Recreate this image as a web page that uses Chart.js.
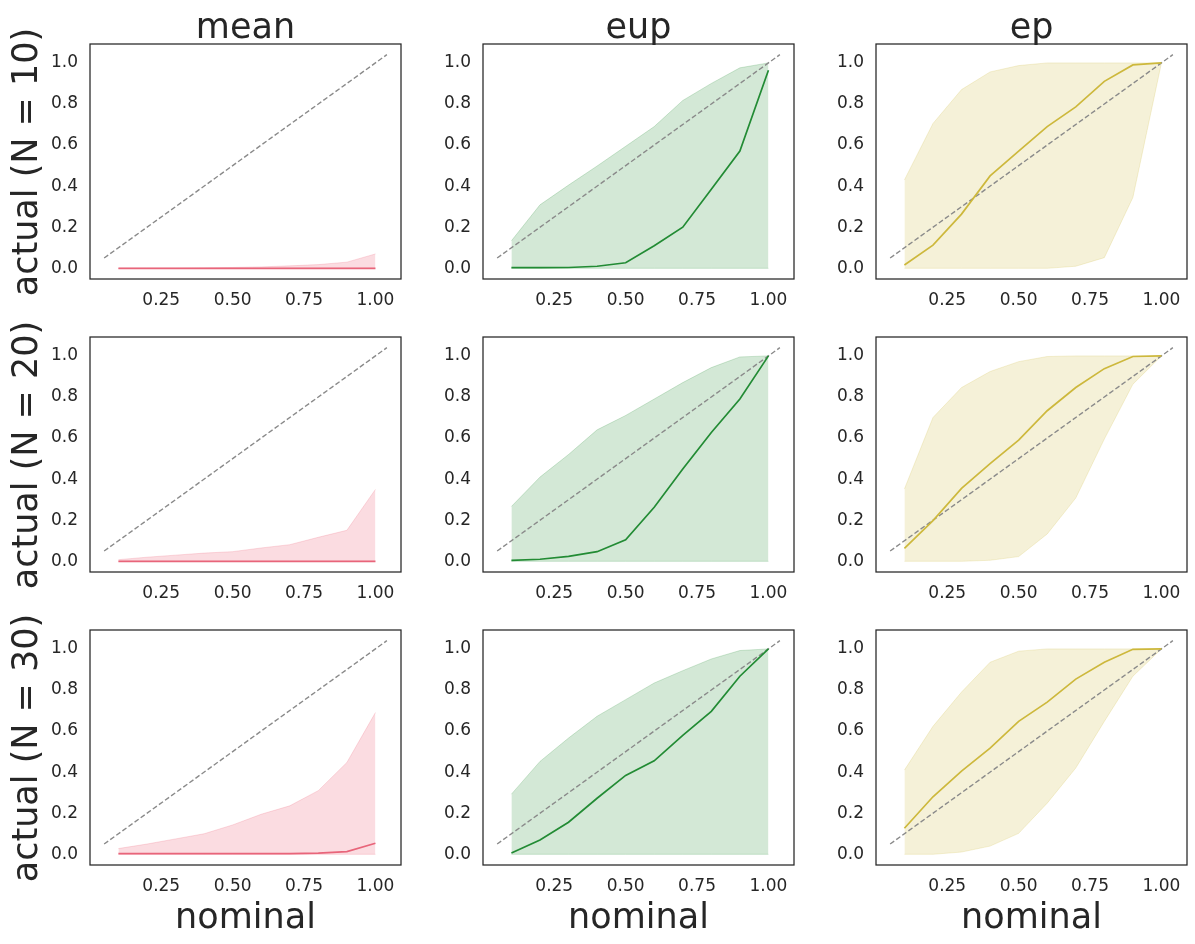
<!DOCTYPE html>
<html>
<head>
<meta charset="utf-8">
<script src="https://cdn.jsdelivr.net/npm/chart.js@4.4.1/dist/chart.umd.min.js"></script>
<style>
  body { margin: 0; background: #fff; }
  #page { position: relative; width: 1195px; height: 944px; overflow: hidden; font-family: "DejaVu Sans", sans-serif; color: #262626; }
  canvas { position: absolute; }
  .lbl { position: absolute; font-size: 35px; line-height: 35px; white-space: nowrap; }
</style>
</head>
<body>
<div id="page"></div>
<script>
// nominal levels (x) shared by every panel
const nominal = [0.1, 0.2, 0.3, 0.4, 0.5, 0.6, 0.7, 0.8, 0.9, 1.0];
const diagonal = [0.05, 1.04];
const xTicks = [0.25, 0.5, 0.75, 1.0];
const yTicks = [0.0, 0.2, 0.4, 0.6, 0.8, 1.0];

const methods = ['mean', 'eup', 'ep'];
const rowLabels = ['actual (N = 10)', 'actual (N = 20)', 'actual (N = 30)'];

// N = 10
const meanLine10 = [0, 0, 0, 0, 0, 0, 0, 0, 0, 0];
const meanLo10 = [0, 0, 0, 0, 0, 0, 0, 0, 0, 0];
const meanHi10 = [0.0, 0.0, 0.0, 0.002, 0.004, 0.007, 0.012, 0.018, 0.03, 0.07];
const eupLine10 = [0.003, 0.003, 0.004, 0.01, 0.027, 0.11, 0.2, 0.385, 0.571, 0.964];
const eupLo10 = [0, 0, 0, 0, 0, 0, 0, 0, 0, 0];
const eupHi10 = [0.134, 0.309, 0.405, 0.498, 0.594, 0.69, 0.817, 0.9, 0.976, 1.0];
const epLine10 = [0.016, 0.113, 0.264, 0.45, 0.57, 0.69, 0.786, 0.91, 0.99, 1.0];
const epLo10 = [0, 0, 0, 0, 0, 0, 0.01, 0.052, 0.345, 1.0];
const epHi10 = [0.43, 0.705, 0.87, 0.956, 0.987, 1.0, 1.0, 1.0, 1.0, 1.0];

// N = 20
const meanLine20 = [0, 0, 0, 0, 0, 0, 0, 0, 0, 0];
const meanLo20 = [0, 0, 0, 0, 0, 0, 0, 0, 0, 0];
const meanHi20 = [0.008, 0.02, 0.03, 0.04, 0.047, 0.065, 0.081, 0.117, 0.151, 0.35];
const eupLine20 = [0.005, 0.01, 0.024, 0.047, 0.105, 0.263, 0.449, 0.627, 0.79, 1.0];
const eupLo20 = [0, 0, 0, 0, 0, 0, 0, 0, 0, 0];
const eupHi20 = [0.267, 0.41, 0.52, 0.64, 0.71, 0.79, 0.87, 0.943, 0.995, 1.0];
const epLine20 = [0.063, 0.198, 0.355, 0.476, 0.59, 0.733, 0.846, 0.938, 0.997, 1.0];
const epLo20 = [0, 0, 0, 0.005, 0.023, 0.133, 0.308, 0.595, 0.862, 1.0];
const epHi20 = [0.352, 0.7, 0.846, 0.924, 0.972, 0.997, 1.0, 1.0, 1.0, 1.0];

// N = 30
const meanLine30 = [0.003, 0.003, 0.003, 0.003, 0.003, 0.003, 0.003, 0.006, 0.013, 0.054];
const meanLo30 = [0, 0, 0, 0, 0, 0, 0, 0, 0, 0];
const meanHi30 = [0.028, 0.05, 0.075, 0.1, 0.143, 0.195, 0.236, 0.31, 0.447, 0.69];
const eupLine30 = [0.006, 0.07, 0.156, 0.273, 0.384, 0.455, 0.579, 0.696, 0.867, 1.0];
const eupLo30 = [0, 0, 0, 0, 0, 0, 0, 0, 0, 0];
const eupHi30 = [0.293, 0.452, 0.566, 0.672, 0.753, 0.834, 0.894, 0.951, 0.992, 1.0];
const epLine30 = [0.127, 0.28, 0.405, 0.517, 0.647, 0.741, 0.853, 0.935, 0.998, 1.0];
const epLo30 = [0, 0, 0.011, 0.04, 0.102, 0.249, 0.42, 0.647, 0.867, 1.0];
const epHi30 = [0.41, 0.623, 0.79, 0.935, 0.989, 1.0, 1.0, 1.0, 1.0, 1.0];

const panels = [
    [[meanLine10, meanLo10, meanHi10], [eupLine10, eupLo10, eupHi10], [epLine10, epLo10, epHi10]],
    [[meanLine20, meanLo20, meanHi20], [eupLine20, eupLo20, eupHi20], [epLine20, epLo20, epHi20]],
    [[meanLine30, meanLo30, meanHi30], [eupLine30, eupLo30, eupHi30], [epLine30, epLo30, epHi30]]
];

const lineColors = ['#e8657a', '#228b34', '#cdb83c'];
const bandColors = ['rgba(240, 110, 130, 0.24)', 'rgba(34, 139, 52, 0.2)', 'rgba(205, 184, 60, 0.2)'];

// layout of the axes frames
const colLeft = [90, 483, 876];
const rowTop = [44, 337, 630];
const frameW = 311, frameH = 235;
const padL = 60, padT = 5, padR = 5, padB = 35;

const page = document.getElementById('page');

// draws the four spines like the seaborn "white" style
const framePlugin = {
    id: 'frame',
    afterDatasetsDraw(chart) {
        const a = chart.chartArea;
        const ctx = chart.ctx;
        ctx.save();
        ctx.strokeStyle = '#262626';
        ctx.lineWidth = 1.25;
        ctx.strokeRect(a.left, a.top, a.right - a.left, a.bottom - a.top);
        ctx.restore();
    }
};

const pts = ys => nominal.map((x, i) => ({ x: x, y: ys[i] }));

function makePanel(r, c) {
    const [line, lo, hi] = panels[r][c];
    const canvas = document.createElement('canvas');
    canvas.width = frameW + padL + padR;
    canvas.height = frameH + padT + padB;
    canvas.style.left = (colLeft[c] - padL) + 'px';
    canvas.style.top = (rowTop[r] - padT) + 'px';
    page.appendChild(canvas);

    new Chart(canvas.getContext('2d'), {
        type: 'line',
        data: {
            datasets: [
                {
                    data: pts(line),
                    borderColor: lineColors[c],
                    borderWidth: 1.7,
                    pointRadius: 0,
                    fill: false,
                    order: 0
                },
                {
                    data: diagonal.map(v => ({ x: v, y: v })),
                    borderColor: '#8a8a8a',
                    borderWidth: 1.4,
                    borderDash: [5, 2.5],
                    pointRadius: 0,
                    fill: false,
                    order: 1
                },
                {
                    data: pts(hi),
                    borderColor: bandColors[c],
                    backgroundColor: bandColors[c],
                    borderWidth: 1,
                    pointRadius: 0,
                    fill: '+1',
                    order: 2
                },
                {
                    data: pts(lo),
                    borderColor: bandColors[c],
                    borderWidth: 1,
                    pointRadius: 0,
                    fill: false,
                    order: 3
                }
            ]
        },
        options: {
            responsive: false,
            animation: false,
            events: [],
            layout: { padding: { left: 0, top: padT, right: padR, bottom: 0 } },
            plugins: {
                legend: { display: false },
                tooltip: { enabled: false }
            },
            elements: { line: { tension: 0 } },
            scales: {
                x: {
                    type: 'linear',
                    min: 0.0005,
                    max: 1.0895,
                    grid: { display: false, drawTicks: false },
                    border: { display: false },
                    afterBuildTicks: s => { s.ticks = xTicks.map(v => ({ value: v })); },
                    afterFit: s => { s.height = padB; s.paddingLeft = 0; s.paddingRight = 0; },
                    ticks: {
                        padding: 11,
                        maxRotation: 0,
                        autoSkip: false,
                        color: '#262626',
                        font: { family: 'DejaVu Sans', size: 17 },
                        callback: v => v.toFixed(2)
                    }
                },
                y: {
                    type: 'linear',
                    min: -0.052,
                    max: 1.092,
                    grid: { display: false, drawTicks: false },
                    border: { display: false },
                    afterBuildTicks: s => { s.ticks = yTicks.map(v => ({ value: v })); },
                    afterFit: s => { s.width = padL; s.paddingTop = 0; s.paddingBottom = 0; },
                    ticks: {
                        padding: 12,
                        autoSkip: false,
                        color: '#262626',
                        font: { family: 'DejaVu Sans', size: 17 },
                        callback: v => v.toFixed(1)
                    }
                }
            }
        },
        plugins: [framePlugin]
    });
}

function addLabel(text, x, y, rotate) {
    const d = document.createElement('div');
    d.className = 'lbl';
    d.textContent = text;
    d.style.left = x + 'px';
    d.style.top = y + 'px';
    d.style.transform = rotate ? 'translate(-50%, -50%) rotate(-90deg)' : 'translate(-50%, -50%)';
    page.appendChild(d);
}

for (let r = 0; r < 3; r++) {
    for (let c = 0; c < 3; c++) makePanel(r, c);
}

// column titles, row labels and x-axis titles
methods.forEach((m, c) => {
    addLabel(m, colLeft[c] + frameW / 2, 26);
    addLabel('nominal', colLeft[c] + frameW / 2, 916);
});
rowLabels.forEach((t, r) => addLabel(t, 25, rowTop[r] + frameH / 2, true));
</script>
</body>
</html>
